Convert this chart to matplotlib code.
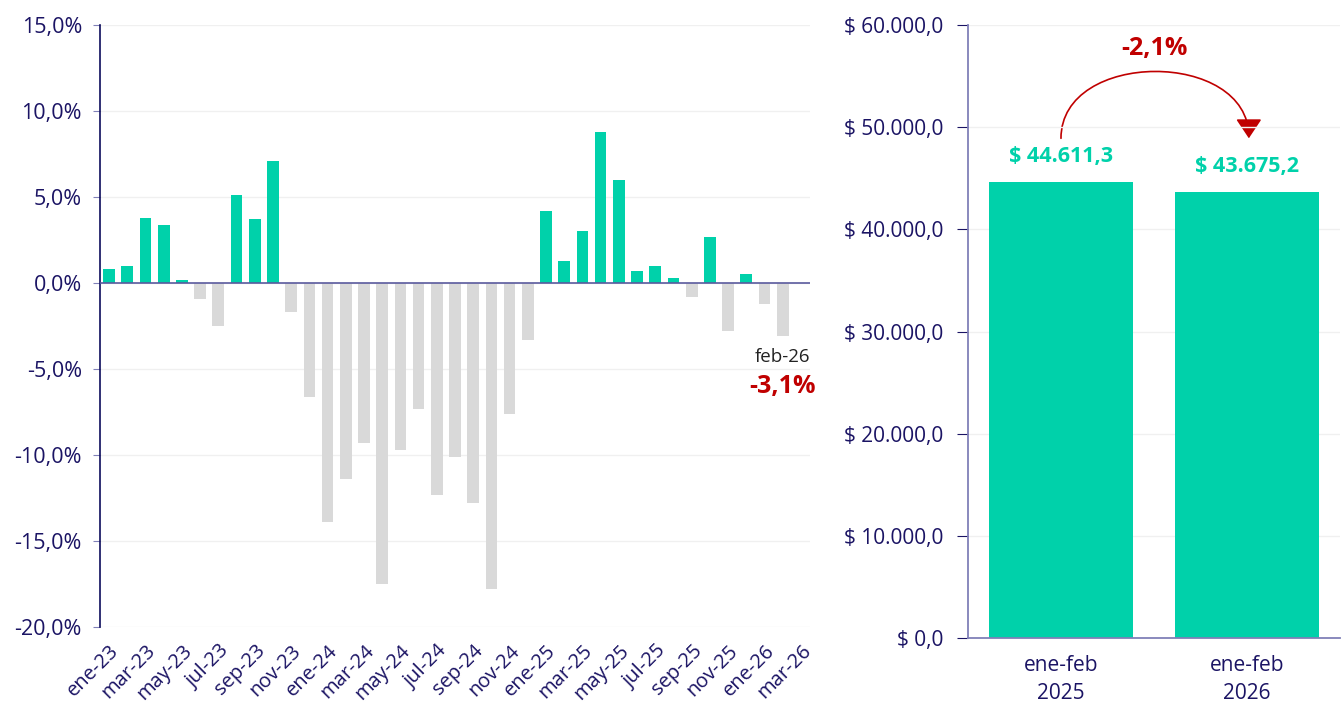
import numpy as np
import matplotlib
matplotlib.use("Agg")
import matplotlib.pyplot as plt
from matplotlib.path import Path
from matplotlib.patches import FancyArrowPatch

plt.rcParams['font.family'] = ['Open Sans', 'DejaVu Sans']

# monthly variation, ene-23 .. feb-26 (mar-26 slot empty)
months = ['ene', 'feb', 'mar', 'abr', 'may', 'jun', 'jul', 'ago', 'sep', 'oct', 'nov', 'dic']
labels = [m + '-' + y for y in ['23', '24', '25', '26'] for m in months][:39]
var_pct = [0.8, 1.0, 3.8, 3.4, 0.2, -0.9, -2.5, 5.1, 3.7, 7.1, -1.7, -6.6,
           -13.9, -11.4, -9.3, -17.5, -9.7, -7.3, -12.3, -10.1, -12.8, -17.8, -7.6, -3.3,
           4.2, 1.3, 3.0, 8.8, 6.0, 0.7, 1.0, 0.3, -0.8, 2.7, -2.8, 0.5, -1.2, -3.1]

# accumulated totals
periods = ['ene-feb\n2025', 'ene-feb\n2026']
totals = [44611.3, 43675.2]
total_var = '-2,1%'

GREEN = '#00D1AA'
GREY = '#D9D9D9'
NAVY = '#1B1464'
LAV = '#8080B8'
RED = '#C00000'
GRID = '#F0F0F0'


def money(v):
    return '$ ' + ('{:,.1f}'.format(v)).replace(',', 'X').replace('.', ',').replace('X', '.')


fig = plt.figure(figsize=(13.42, 7.11), dpi=100)

# ---- left chart
ax = fig.add_axes([0.0745, 0.1181, 0.5291, 0.8467])
x = np.arange(len(var_pct))
cols = [GREEN if v >= 0 else GREY for v in var_pct]
ax.bar(x, var_pct, width=0.64, color=cols, zorder=2)
ax.set_xlim(-0.5, len(labels) - 0.5)
ax.set_ylim(-20, 15)
ax.set_yticks(np.arange(-20, 16, 5))
ax.set_yticklabels([('%.1f%%' % t).replace('.', ',') for t in np.arange(-20, 16, 5)])
ax.set_xticks(np.arange(0, len(labels), 2))
ax.set_xticklabels(labels[::2], rotation=45, ha='right', rotation_mode='anchor')
ax.tick_params(axis='x', length=0, pad=10, labelsize=14.5, labelcolor=NAVY)
ax.tick_params(axis='y', length=5, color=LAV, labelsize=15.5, labelcolor=NAVY, pad=8)
ax.grid(axis='y', color=GRID, lw=1, zorder=0)
ax.axhline(0, color='#5A5A9E', lw=1.2, zorder=3)
for s in ['top', 'right', 'bottom']:
    ax.spines[s].set_visible(False)
ax.spines['left'].set_color('#0D0D5C')
ax.spines['left'].set_linewidth(1.2)

last = len(var_pct) - 1
ax.annotate(labels[last], (last, var_pct[last]), xytext=(0, -15), textcoords='offset points',
            ha='center', va='center', fontsize=13.5, color='#222222')
ax.annotate(('%.1f%%' % var_pct[last]).replace('.', ','), (last, var_pct[last]), xytext=(0, -36),
            textcoords='offset points', ha='center', va='center', fontsize=18,
            fontweight='bold', color=RED)

# ---- right chart
ax2 = fig.add_axes([0.7213, 0.1027, 0.2772, 0.8621])
xp = np.arange(len(totals))
ax2.bar(xp, totals, width=0.77, color=GREEN, zorder=2)
ax2.set_xlim(-0.5, 1.5)
ax2.set_ylim(0, 60000)
yt = np.arange(0, 60001, 10000)
ax2.set_yticks(yt)
ax2.set_yticklabels([money(t) for t in yt])
ax2.set_xticks(xp)
ax2.set_xticklabels(periods, linespacing=1.45)
ax2.tick_params(axis='x', length=0, pad=12, labelsize=15, labelcolor=NAVY)
ax2.tick_params(axis='y', length=8, color=NAVY, labelsize=15, labelcolor=NAVY, pad=10)
ax2.grid(axis='y', color=GRID, lw=1, zorder=0)
for s in ['top', 'right']:
    ax2.spines[s].set_visible(False)
ax2.spines['left'].set_color(LAV)
ax2.spines['bottom'].set_color(LAV)
ax2.spines['left'].set_linewidth(1.3)
ax2.spines['bottom'].set_linewidth(1.3)

for xi, v in zip(xp, totals):
    ax2.annotate(money(v), (xi, v), xytext=(0, 11), textcoords='offset points', ha='center',
                 va='bottom', fontsize=15.5, fontweight='bold', color=GREEN)

# curved arrow between the two periods
ya = totals[0] + 4300
k = 8700
arc = Path([(xp[0], ya), (xp[0], ya + k), (xp[1] + 0.01, ya + k), (xp[1] + 0.01, ya)],
           [Path.MOVETO, Path.CURVE4, Path.CURVE4, Path.CURVE4])
arrow = FancyArrowPatch(path=arc, arrowstyle='-|>,head_length=0.6,head_width=0.4',
                        mutation_scale=20, color=RED, lw=1.2, transform=ax2.transData,
                        clip_on=False)
ax2.add_patch(arrow)
ax2.text(0.5, ya + 0.75 * k + 1000, total_var, ha='center', va='bottom', fontsize=18,
         fontweight='bold', color=RED)

fig.savefig('out.png', dpi=100)
